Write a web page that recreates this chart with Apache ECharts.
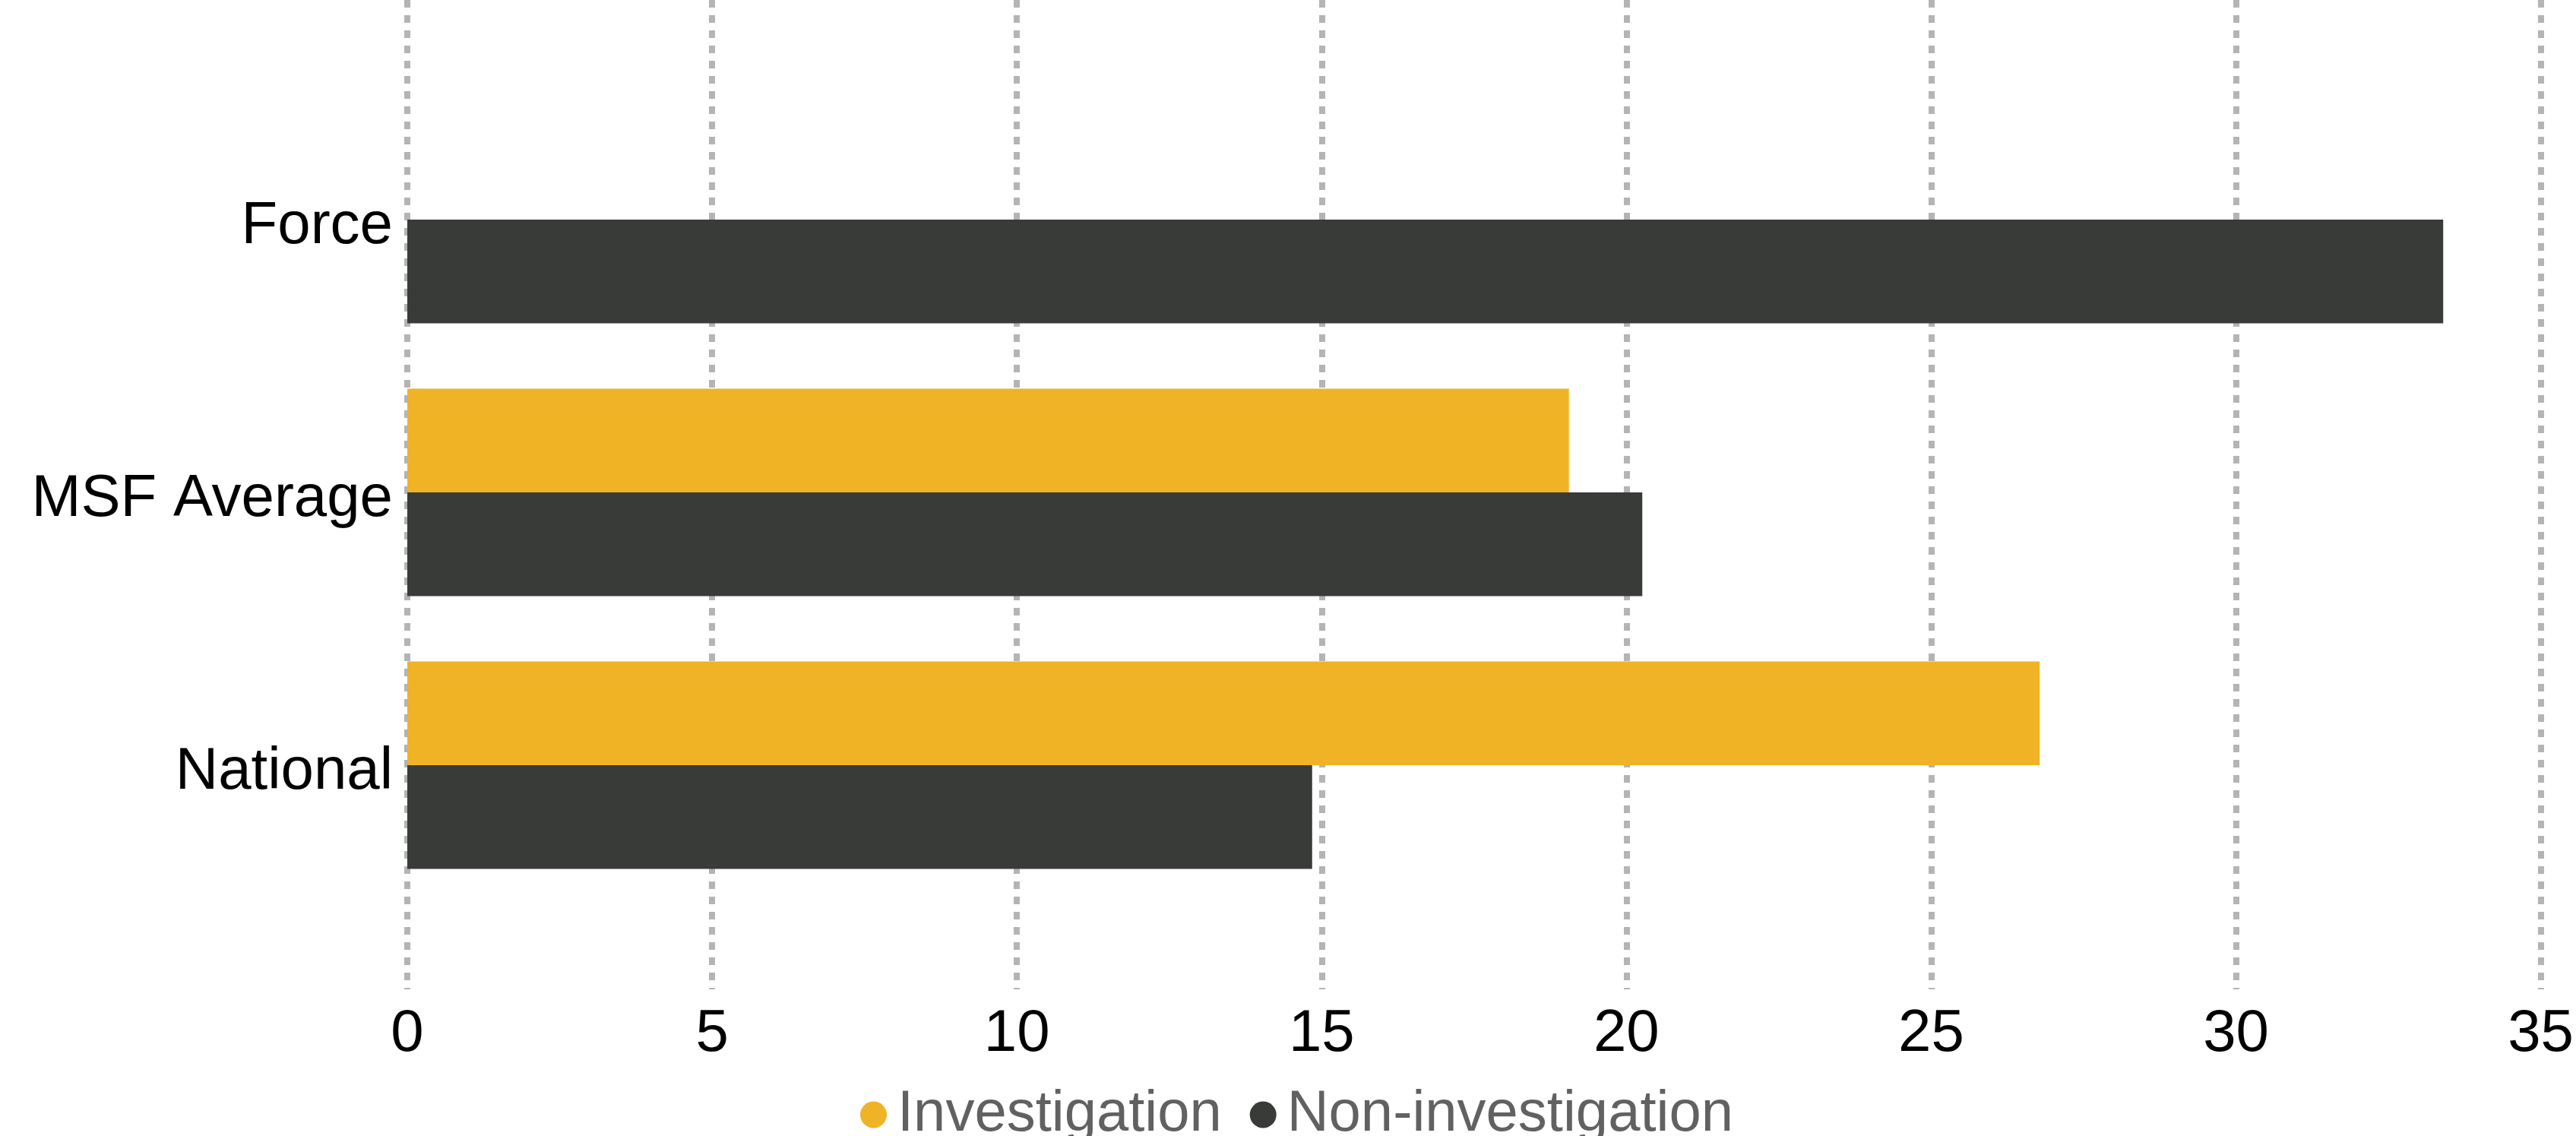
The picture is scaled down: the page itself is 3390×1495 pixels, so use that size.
<!DOCTYPE html>
<html>
<head>
<meta charset="utf-8">
<script src="https://cdn.jsdelivr.net/npm/echarts@6/dist/echarts.min.js"></script>
<style>
  html, body { margin: 0; padding: 0; background: #ffffff; }
  #chart { width: 3390px; height: 1495px; }
</style>
</head>
<body>
<div id="chart"></div>
<script>
const categories = ['Force', 'MSF Average', 'National'];
const investigation = [null, 19.0, 26.7];
const nonInvestigation = [33.3, 20.2, 14.8];
const xTicks = { min: 0, max: 35, interval: 5 };

const FONT = '"Liberation Sans", Arial, sans-serif';
const chart = echarts.init(document.getElementById('chart'), null, { renderer: 'canvas' });

chart.setOption({
  backgroundColor: '#ffffff',
  animation: false,
  legend: {
    data: ['Investigation', 'Non-investigation'],
    left: 1127,
    top: 1424,
    icon: 'circle',
    itemWidth: 35,
    itemHeight: 35,
    itemGap: 37,
    textStyle: { fontFamily: FONT, fontSize: 76, color: '#616161', padding: [0, 0, 0, 9] }
  },
  grid: [
    { left: 536, right: 38, top: 0, height: 1302, containLabel: false },
    { left: 536, right: 38, top: 109.5, height: 1077, containLabel: false }
  ],
  xAxis: [
    {
      gridIndex: 0, type: 'value', min: xTicks.min, max: xTicks.max, interval: xTicks.interval,
      axisLine: { show: false }, axisTick: { show: false },
      axisLabel: { fontFamily: FONT, fontSize: 78, color: '#000000', margin: 20 },
      splitLine: { show: true, lineStyle: { color: '#b4b4b4', width: 8, type: [10, 10] } }
    },
    {
      gridIndex: 1, type: 'value', min: xTicks.min, max: xTicks.max, interval: xTicks.interval,
      show: false, splitLine: { show: false }
    }
  ],
  yAxis: [
    { gridIndex: 0, type: 'value', show: false, splitLine: { show: false } },
    {
      gridIndex: 1, type: 'category', data: categories, inverse: true,
      axisLine: { show: false }, axisTick: { show: false },
      axisLabel: {
        margin: 19,
        formatter: function (v) { return '{c|' + v + '}'; },
        rich: {
          c: { fontFamily: FONT, fontSize: 78, color: '#000000', padding: [18, 0, 0, 0] }
        }
      },
      splitLine: { show: false }
    }
  ],
  series: [
    {
      name: 'Investigation', type: 'bar', xAxisIndex: 1, yAxisIndex: 1,
      data: investigation, barGap: '0%', barCategoryGap: '24%',
      itemStyle: { color: '#efb325' }
    },
    {
      name: 'Non-investigation', type: 'bar', xAxisIndex: 1, yAxisIndex: 1,
      data: nonInvestigation, barGap: '0%', barCategoryGap: '24%',
      itemStyle: { color: '#393b38' }
    }
  ]
});
</script>
</body>
</html>
